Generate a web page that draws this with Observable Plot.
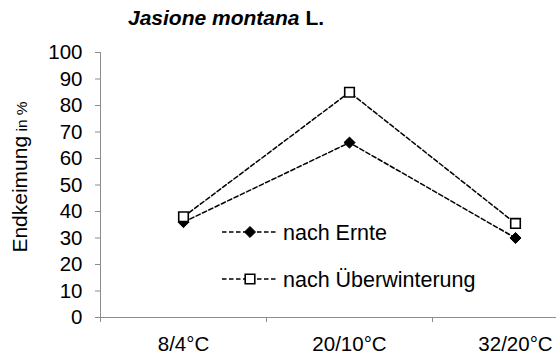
<!DOCTYPE html>
<html><head><meta charset="utf-8">
<script src="https://cdn.jsdelivr.net/npm/d3@7"></script>
<script src="https://cdn.jsdelivr.net/npm/@observablehq/plot@0.6"></script>
<style>body{margin:0;background:#fff;font-family:"Liberation Sans",Arial,sans-serif}</style>
</head><body><div id="chart"></div>
<script>
const categories = ["8/4°C", "20/10°C", "32/20°C"];
const nachErnte = [36, 66, 30];
const nachUeberwinterung = [38, 85, 35.5];
const seriesNames = ["nach Ernte", "nach Überwinterung"];
const yTicks = [0, 10, 20, 30, 40, 50, 60, 70, 80, 90, 100];
const titleItalic = "Jasione montana";
const titleRest = " L.";
const yLabelMain = "Endkeimung";
const yLabelSmall = " in %";

const ernte = categories.map((c, i) => ({x: i + 0.5, cat: c, v: nachErnte[i], s: seriesNames[0]}));
const ueber = categories.map((c, i) => ({x: i + 0.5, cat: c, v: nachUeberwinterung[i], s: seriesNames[1]}));

const gray = "#8c8c8c";
const plot = Plot.plot({
  width: 556, height: 355,
  marginLeft: 100, marginRight: 0, marginTop: 52, marginBottom: 38,
  style: {fontFamily: "'Liberation Sans', Arial, sans-serif", fontSize: "20.5px", color: "#000", background: "#fff", overflow: "hidden"},
  x: {domain: [0, categories.length], range: [100, 100 + 166 * categories.length]},
  y: {domain: [0, 100]},
  marks: [
    Plot.ruleX([0], {stroke: gray, strokeWidth: 1}),
    Plot.ruleY([0], {stroke: gray, strokeWidth: 1}),
    Plot.axisY({ticks: yTicks, tickSize: 5, tickPadding: 13, stroke: gray, fill: "#000", label: null, tickFormat: d => String(d)}),
    Plot.axisX({ticks: d3.range(categories.length + 1), tickSize: 5, stroke: gray, tickFormat: () => "", label: null}),
    Plot.axisX({ticks: categories.map((c, i) => i + 0.5), tickSize: 0, tickPadding: 19, fill: "#000", tickFormat: d => categories[Math.round(d - 0.5)], label: null}),
    Plot.line(ueber, {x: "x", y: "v", stroke: "#000", strokeWidth: 1.5, strokeDasharray: "4.5,2.5"}),
    Plot.line(ernte, {x: "x", y: "v", stroke: "#000", strokeWidth: 1.5, strokeDasharray: "4.5,2.5"}),
    Plot.dot(ernte, {x: "x", y: "v", symbol: "diamond2", r: 5, fill: "#000", stroke: "#000", strokeWidth: 1}),
    Plot.dot(ueber, {x: "x", y: "v", symbol: "square", r: 5.4, fill: "#fff", stroke: "#000", strokeWidth: 1.6})
  ]
});
document.getElementById("chart").appendChild(plot);

const svg = d3.select(plot);
// Title
const t = svg.append("text").attr("x", 128).attr("y", 25).attr("text-anchor", "start")
  .attr("font-size", 21).attr("font-weight", "bold").attr("fill", "#000");
t.append("tspan").attr("font-style", "italic").text(titleItalic);
t.append("tspan").text(titleRest);
// Y label
const yl = svg.append("text").attr("transform", "translate(27,177) rotate(-90)")
  .attr("text-anchor", "middle").attr("fill", "#000");
yl.append("tspan").attr("font-size", 21).text(yLabelMain);
yl.append("tspan").attr("font-size", 15.5).text(yLabelSmall);
// Legend
const legendItems = [
  {name: seriesNames[0], symbol: d3.symbolDiamond2, size: 78, fill: "#000", sw: 1},
  {name: seriesNames[1], symbol: d3.symbolSquare, size: 92, fill: "#fff", sw: 1.6}
];
const lg = svg.append("g").attr("transform", "translate(222,232)");
legendItems.forEach((it, i) => {
  const g = lg.append("g").attr("transform", `translate(0,${i * 47})`);
  g.append("line").attr("x1", 0).attr("x2", 56).attr("y1", 0).attr("y2", 0)
    .attr("stroke", "#000").attr("stroke-width", 1.5).attr("stroke-dasharray", "4.5,2.5");
  g.append("path").attr("d", d3.symbol(it.symbol, it.size)()).attr("transform", "translate(28,0)")
    .attr("fill", it.fill).attr("stroke", "#000").attr("stroke-width", it.sw);
  g.append("text").attr("x", 61).attr("y", 0).attr("dy", "0.35em").attr("text-anchor", "start")
    .attr("font-size", 21.5).attr("fill", "#000").text(it.name);
});
</script></body></html>
